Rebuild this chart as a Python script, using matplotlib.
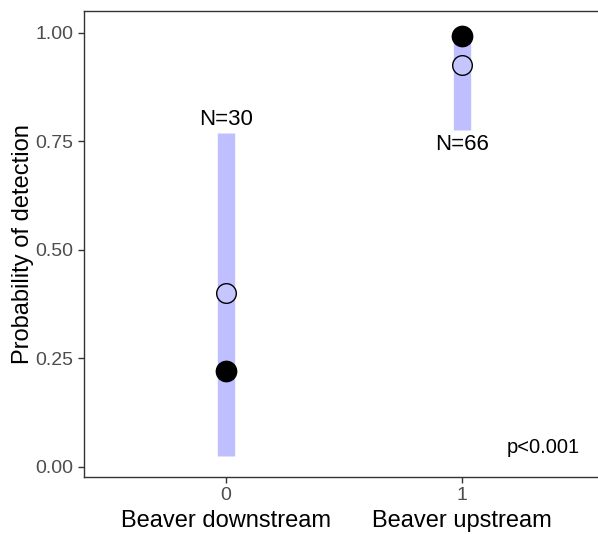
import numpy as np
import matplotlib.pyplot as plt
import matplotlib.transforms as mtransforms

plt.rcParams['font.family'] = ['Liberation Sans', 'DejaVu Sans']

# data
groups = [0, 1]
group_names = ['Beaver downstream', 'Beaver upstream']
ci_low = [0.025, 0.776]
ci_high = [0.769, 0.985]
predicted = [0.401, 0.925]
observed = [0.221, 0.992]
n_labels = ['N=30', 'N=66']
n_label_y = [0.80, 0.743]
yticks = [0.00, 0.25, 0.50, 0.75, 1.00]

fig = plt.figure(figsize=(5.98, 5.34), dpi=100)
ax = fig.add_axes([84 / 598, 1 - 477 / 534, 1 - 84 / 598, (477 - 11) / 534])

for x, lo, hi in zip(groups, ci_low, ci_high):
    ax.plot([x, x], [lo, hi], color='#bfbfff', linewidth=12.5, solid_capstyle='butt', zorder=1)

ax.scatter(groups, observed, s=215, color='black', zorder=3)
ax.scatter(groups, predicted, s=200, facecolor='#c6c6ff', edgecolor='black', linewidth=1.0, zorder=2)

for x, lab, y in zip(groups, n_labels, n_label_y):
    ax.text(x, y, lab, ha='center', va='center', fontsize=16, color='black')

ax.text(1.343, 0.045, 'p<0.001', ha='center', va='center', fontsize=14.5, color='black')

ax.set_xlim(-0.6, 1.576)
ax.set_ylim(-0.024, 1.05)
ax.set_xticks(groups)
ax.set_xticklabels([str(g) for g in groups])
ax.set_yticks(yticks)
ax.set_yticklabels(['%.2f' % v for v in yticks])
ax.tick_params(colors='#333333', labelcolor='#4d4d4d', labelsize=14, length=4, width=1)
ax.set_ylabel('Probability of detection', fontsize=17, color='black', labelpad=1)

trans = mtransforms.blended_transform_factory(ax.transData, fig.transFigure)
for x, name in zip(groups, group_names):
    ax.text(x, 1 - 521 / 534, name, ha='center', va='center', fontsize=17, color='black',
            transform=trans, clip_on=False)

for side in ['left', 'bottom', 'top']:
    ax.spines[side].set_color('#333333')
    ax.spines[side].set_linewidth(1.0)
ax.spines['right'].set_visible(False)

fig.savefig('out.png', dpi=100)
